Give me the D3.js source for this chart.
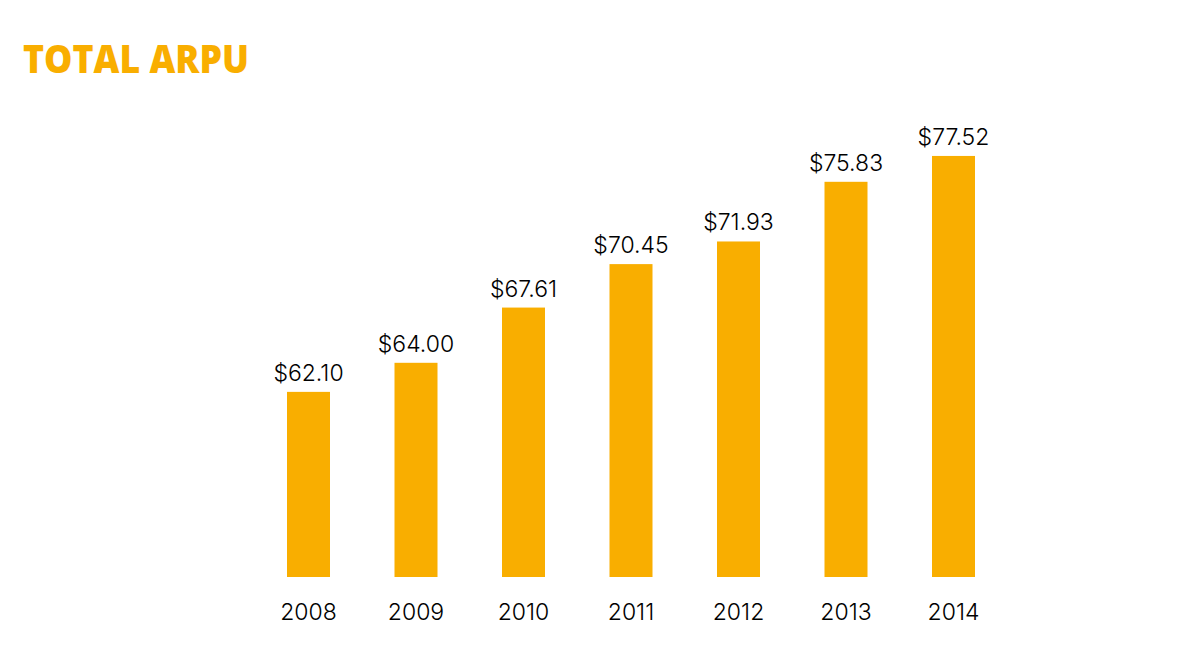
<!DOCTYPE html>
<html>
<head>
<meta charset="utf-8">
<script src="https://cdn.jsdelivr.net/npm/d3@7"></script>
<style>
  body { margin: 0; background: #fff; }
  svg { display: block; }
</style>
</head>
<body>
<div class="chart"></div>
<script>
const years = ["2008", "2009", "2010", "2011", "2012", "2013", "2014"];
const arpu = [62.10, 64.00, 67.61, 70.45, 71.93, 75.83, 77.52];

const width = 1192;
const height = 667;
const barColor = "#F9AE00";

const svg = d3.select(".chart")
    .append("svg")
    .attr("width", width)
    .attr("height", height);

svg.append("text")
    .attr("x", 23)
    .attr("y", 73)
    .attr("fill", barColor)
    .style("font-family", "'Open Sans', sans-serif")
    .style("font-weight", 800)
    .style("font-size", "39px")
    .attr("textLength", 226)
    .attr("lengthAdjust", "spacingAndGlyphs")
    .text("TOTAL ARPU");

const x = d3.scaleBand()
    .domain(years)
    .range([222.5, 1039.5])
    .paddingInner(0.6)
    .paddingOuter(0.6);

// axis doesn't start at zero in the original
const y = d3.scaleLinear()
    .domain([50, 80])
    .range([577, 118]);

const data = years.map((yr, i) => ({year: yr, value: arpu[i]}));

svg.append("g")
    .selectAll("rect")
    .data(data)
    .enter()
    .append("rect")
    .attr("x", d => x(d.year))
    .attr("y", d => y(d.value))
    .attr("width", x.bandwidth())
    .attr("height", d => y(50) - y(d.value))
    .attr("fill", barColor);

svg.append("g")
    .selectAll("text")
    .data(data)
    .enter()
    .append("text")
    .attr("x", d => x(d.year) + x.bandwidth() / 2)
    .attr("y", d => y(d.value) - 11)
    .attr("text-anchor", "middle")
    .style("font-family", "Inter, Roboto, sans-serif")
    .style("font-size", "23px")
    .style("font-weight", 300)
    .attr("fill", "#000")
    .text(d => "$" + d.value.toFixed(2));

const xAxis = svg.append("g")
    .attr("transform", `translate(0, 577)`)
    .call(d3.axisBottom(x).tickSize(0).tickPadding(27));

xAxis.select(".domain").remove();
xAxis.selectAll("text")
    .style("font-family", "Inter, Roboto, sans-serif")
    .style("font-size", "23px")
    .style("font-weight", 300)
    .attr("fill", "#000");
</script>
</body>
</html>
